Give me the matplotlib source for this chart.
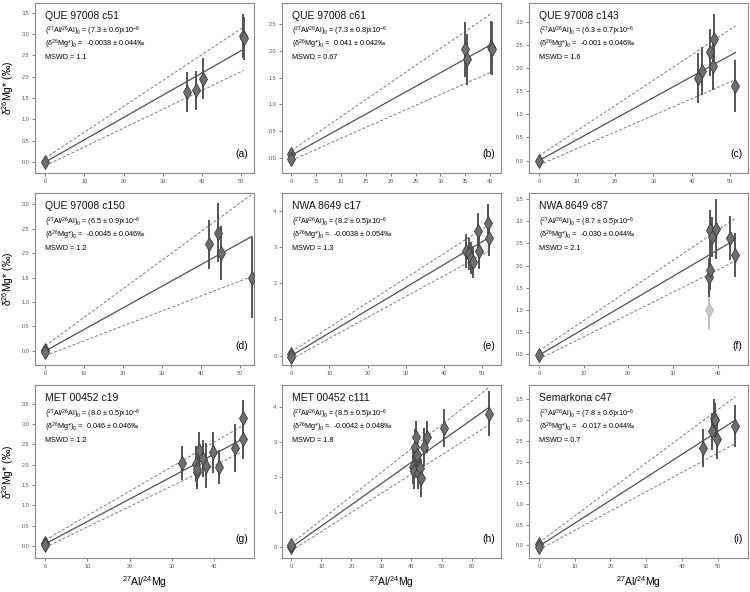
import numpy as np
import matplotlib.pyplot as plt

plt.rcParams['font.family'] = ['Liberation Sans', 'DejaVu Sans']
plt.rcParams['mathtext.fontset'] = 'custom'
plt.rcParams['mathtext.rm'] = 'Liberation Sans'
plt.rcParams['mathtext.it'] = 'Liberation Sans:italic'
plt.rcParams['mathtext.bf'] = 'Liberation Sans:bold'

# panel text
titles = ["QUE 97008 c51", "QUE 97008 c61", "QUE 97008 c143",
          "QUE 97008 c150", "NWA 8649 c17", "NWA 8649 c87",
          "MET 00452 c19", "MET 00452 c111", "Semarkona c47"]
al_ratio = ["7.3 ± 0.6", "7.3 ± 0.8", "6.3 ± 0.7", "6.5 ± 0.9", "8.2 ± 0.5",
            "8.7 ± 0.5", "8.0 ± 0.5", "8.5 ± 0.5", "7.8 ± 0.6"]
mg0 = ["-0.0038 ± 0.044", "0.041 ± 0.042", "-0.001 ± 0.046", "-0.0045 ± 0.046",
       "-0.0038 ± 0.054", "-0.030 ± 0.044", "0.046 ± 0.046", "-0.0042 ± 0.048",
       "-0.017 ± 0.044"]
mswd = ["1.1", "0.67", "1.6", "1.2", "1.3", "2.1", "1.2", "1.8", "0.7"]
letters = ["a", "b", "c", "d", "e", "f", "g", "h", "i"]

# data: 27Al/24Mg, d26Mg*, 2-sigma error
x_a = [0, 36.2, 38.5, 40.3, 50.4, 50.7]
y_a = [0.0, 1.64, 1.68, 1.95, 2.95, 2.90]
e_a = [0.09, 0.47, 0.45, 0.48, 0.52, 0.50]

x_b = [0, 0, 34.9, 35.4, 40.1, 40.4]
y_b = [0.07, -0.03, 2.03, 1.84, 2.07, 2.04]
e_b = [0.08, 0.08, 0.51, 0.48, 0.50, 0.50]

x_c = [0, 41.6, 42.8, 44.8, 45.5, 45.9, 51.5]
y_c = [-0.01, 1.79, 1.93, 2.34, 2.05, 2.63, 1.61]
e_c = [0.08, 0.54, 0.52, 0.51, 0.53, 0.54, 0.56]

x_d = [0, 0, 42.0, 44.3, 45.0, 52.9]
y_d = [0.02, -0.03, 2.18, 2.42, 2.00, 1.50]
e_d = [0.08, 0.08, 0.50, 0.61, 0.55, 0.82]

x_e = [0, 0, 45.7, 46.6, 47.0, 47.6, 49.0, 49.1, 51.5, 51.8]
y_e = [0.05, -0.05, 2.89, 2.80, 2.70, 2.59, 3.44, 2.89, 3.67, 3.26]
e_e = [0.08, 0.08, 0.46, 0.45, 0.45, 0.45, 0.50, 0.50, 0.52, 0.50]

x_f = [0, 38.1, 38.3, 38.4, 38.8, 39.6, 42.8, 44.0]
y_f = [-0.03, 1.73, 1.89, 2.81, 2.65, 2.82, 2.63, 2.24]
e_f = [0.08, 0.45, 0.45, 0.45, 0.45, 0.68, 0.50, 0.50]
x_f_out = [38.1]
y_f_out = [1.00]
e_f_out = [0.45]

x_g = [0, 0, 32.5, 35.7, 36.0, 36.1, 36.5, 37.3, 38.1, 39.7, 41.1, 45.0, 46.8, 47.0]
y_g = [0.06, 0.02, 2.05, 2.02, 1.82, 1.90, 2.35, 2.15, 1.97, 2.30, 1.94, 2.41, 2.64, 3.15]
e_g = [0.10, 0.10, 0.42, 0.45, 0.42, 0.50, 0.45, 0.45, 0.55, 0.50, 0.42, 0.60, 0.50, 0.45]

x_h = [0, 0, 40.6, 40.9, 41.2, 41.4, 41.7, 42.3, 42.9, 43.2, 44.3, 45.3, 50.8, 65.9]
y_h = [0.0, 0.05, 2.29, 2.16, 2.86, 3.14, 2.62, 2.12, 2.26, 1.97, 2.86, 3.14, 3.40, 3.81]
e_h = [0.10, 0.10, 0.50, 0.50, 0.50, 0.45, 0.50, 0.45, 0.45, 0.55, 0.55, 0.45, 0.55, 0.65]

x_i = [0, 0, 46.0, 48.5, 49.0, 49.3, 49.7, 55.0]
y_i = [0.04, -0.04, 2.33, 2.73, 3.05, 3.00, 2.54, 2.85]
e_i = [0.08, 0.08, 0.45, 0.45, 0.45, 0.40, 0.47, 0.50]

xs = [x_a, x_b, x_c, x_d, x_e, x_f, x_g, x_h, x_i]
ys = [y_a, y_b, y_c, y_d, y_e, y_f, y_g, y_h, y_i]
es = [e_a, e_b, e_c, e_d, e_e, e_f, e_g, e_h, e_i]

# isochron fits (intercept, slope): best fit, upper and lower envelope
fit_mid = [(-0.004, 0.0523), (0.041, 0.0517), (-0.001, 0.0454), (-0.0045, 0.0443),
           (-0.004, 0.0630), (-0.03, 0.0595), (0.046, 0.0552), (-0.004, 0.0607),
           (-0.017, 0.0549)]
fit_hi = [(0.09, 0.0607), (0.13, 0.0639), (0.10, 0.0546), (0.10, 0.0586),
          (0.10, 0.0680), (0.07, 0.0682), (0.14, 0.0602), (0.10, 0.0678),
          (0.07, 0.0635)]
fit_lo = [(-0.09, 0.0442), (-0.05, 0.0411), (-0.10, 0.0359), (-0.10, 0.0306),
          (-0.10, 0.0577), (-0.12, 0.0505), (-0.04, 0.0504), (-0.10, 0.0546),
          (-0.10, 0.0462)]

xlims = [(-2.6, 53.3), (-1.9, 42.2), (-2.6, 54.8), (-2.6, 53.5), (-2.4, 54.9),
         (-2.2, 46.8), (-2.4, 49.5), (-3.1, 69.8), (-2.8, 58.5)]
ylims = [(-0.26, 3.73), (-0.29, 2.9), (-0.27, 3.41), (-0.29, 3.23), (-0.26, 4.49),
         (-0.25, 3.64), (-0.3, 3.96), (-0.31, 4.63), (-0.3, 3.84)]
xstep = [10, 5, 10, 10, 10, 10, 10, 10, 10]
ytick_max = [3.5, 2.5, 3.0, 3.0, 4, 3.5, 3.5, 4, 3.5]
ystep = [0.5, 0.5, 0.5, 0.5, 1, 0.5, 0.5, 1, 0.5]

W, H = 750, 592
fig = plt.figure(figsize=(7.5, 5.92), dpi=100)
lefts = [35, 282, 529]
tops = [3, 193, 385]
bottoms = [173, 365, 558]
aw = 219

for k in range(9):
    r, c = k // 3, k % 3
    ax = fig.add_axes([lefts[c] / W, 1 - bottoms[r] / H, aw / W,
                       (bottoms[r] - tops[r]) / H])
    x = np.array(xs[k])
    y = np.array(ys[k])
    xl = np.array([0, x.max()])
    b, m = fit_hi[k]
    ax.plot(xl, b + m * xl, color='#7a7a7a', lw=0.7, ls=(0, (3, 2)), zorder=1)
    b, m = fit_lo[k]
    ax.plot(xl, b + m * xl, color='#7a7a7a', lw=0.7, ls=(0, (3, 2)), zorder=1)
    b, m = fit_mid[k]
    ax.plot(xl, b + m * xl, color='#505050', lw=0.9, zorder=1)

    if k == 5:
        ax.errorbar(x_f_out, y_f_out, yerr=e_f_out, fmt='none', ecolor='#bdbdbd',
                    elinewidth=1.3, zorder=2)
        ax.plot(x_f_out, y_f_out, 'd', ms=7, mfc='#c8c8c8', mec='#aaaaaa',
                mew=0.5, zorder=3)
    ax.errorbar(x, y, yerr=es[k], fmt='none', ecolor='#555555',
                elinewidth=1.4, zorder=2)
    ax.plot(x, y, 'd', ms=7, mfc='#6e6e6e', mec='#3a3a3a', mew=0.6, zorder=3)

    ax.set_xlim(*xlims[k])
    ax.set_ylim(*ylims[k])
    ax.set_xticks(np.arange(0, xlims[k][1], xstep[k]))
    yt = np.arange(0, ytick_max[k] + 1e-6, ystep[k])
    ax.set_yticks(yt)
    if ystep[k] < 1:
        ax.set_yticklabels(['%.1f' % v for v in yt])
    else:
        ax.set_yticklabels(['%d' % v for v in yt])
    ax.tick_params(labelsize=4, colors='#555555', length=2, width=0.5, pad=2)
    for s in ax.spines.values():
        s.set_color('#8a8a8a')
        s.set_linewidth(0.8)

    ax.text(0.045, 0.925, titles[k], transform=ax.transAxes, fontsize=7.5,
            va='center', ha='left', color='#111111')
    ax.text(0.045, 0.832,
            r'($^{27}$Al/$^{26}$Al)$_0$ = (' + al_ratio[k] + r')x10$^{-6}$',
            transform=ax.transAxes, fontsize=5.2, va='center', ha='left')
    ax.text(0.045, 0.756, r'(δ$^{26}$Mg*)$_0$ =  ' + mg0[k] + '‰',
            transform=ax.transAxes, fontsize=5.2, va='center', ha='left')
    ax.text(0.045, 0.68, 'MSWD = ' + mswd[k], transform=ax.transAxes,
            fontsize=5.2, va='center', ha='left')
    ax.text(0.975, 0.11, '(' + letters[k] + ')', transform=ax.transAxes,
            fontsize=7.5, va='center', ha='right')

    if c == 0:
        ymid = 1 - (tops[r] + bottoms[r]) / 2 / H
        fig.text(0.011, ymid, r'δ$^{26}$Mg* (‰)', rotation=90, fontsize=7.5,
                 va='center', ha='center')
    if r == 2:
        fig.text((lefts[c] + aw / 2) / W, 0.016, r'$^{27}$Al/$^{24}$Mg',
                 fontsize=7.5, ha='center', va='center')

fig.savefig('out.png', dpi=100)
